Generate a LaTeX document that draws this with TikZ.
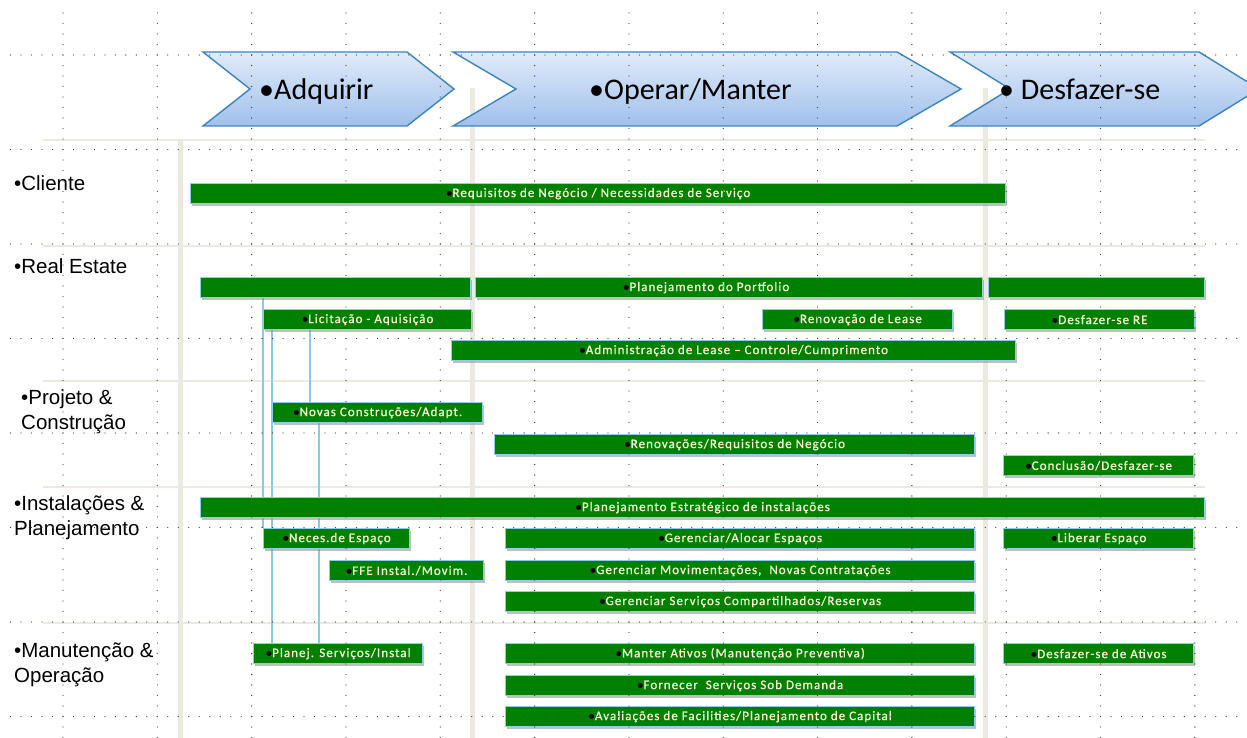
\documentclass[tikz,border=0pt]{standalone}
\usepackage{fontspec}
\setmainfont{Liberation Sans}
\newfontfamily\carlito{Carlito}
\newfontfamily\barfont[LetterSpace=8,FakeBold=0.7]{Carlito}
\usetikzlibrary{shadows}

\definecolor{bargreen}{RGB}{0,128,0}
\definecolor{barline}{RGB}{140,205,238}
\definecolor{bartext}{RGB}{250,250,218}
\definecolor{linkblue}{RGB}{140,200,235}
\definecolor{sepbeige}{RGB}{236,234,224}
\definecolor{chevline}{RGB}{62,132,188}
\definecolor{chevtop}{RGB}{224,235,250}
\definecolor{chevbot}{RGB}{160,192,235}
\definecolor{griddot}{RGB}{70,70,70}

\pgfdeclarelayer{back}
\pgfdeclarelayer{wires}
\pgfsetlayers{back,wires,main}

% black bullet in front of the bar labels
\newcommand{\bdot}{{\color{black}•}}

\tikzset{
  task/.style={draw=barline, line width=1.3pt, fill=bargreen, text=bartext,
    font=\barfont\fontsize{13}{15}\selectfont, minimum height=20pt,
    inner sep=0pt, anchor=north west,
    drop shadow={shadow xshift=1pt, shadow yshift=-2.5pt, fill=black!45, opacity=0.55}},
  phase/.style={draw=chevline, line width=1.4pt, top color=chevtop, bottom color=chevbot},
  phaselabel/.style={anchor=base west, inner sep=0pt, font=\carlito\fontsize{30}{36}\selectfont},
  lane/.style={anchor=west, inner sep=0pt, align=left, font=\fontsize{20.5}{25}\selectfont},
  sep/.style={draw=sepbeige, line width=2pt},
  pillar/.style={draw=sepbeige, line width=5pt},
  link/.style={draw=linkblue, line width=1.4pt},
  vdots/.style={draw=griddot, line width=1.3pt, line cap=round, dash pattern=on 0pt off 10.5pt},
  hdots/.style={draw=griddot, line width=1.3pt, line cap=round, dash pattern=on 0pt off 10.48pt}
}

\begin{document}
\begin{tikzpicture}[x=1pt,y=-1pt]
  \useasboundingbox (0,0) rectangle (1247,738);

  \begin{pgfonlayer}{back}
    \fill[white] (0,0) rectangle (1247,738);
    % lane separators
    \draw[sep] (43,140) -- (1205,140);
    \draw[sep] (43,246) -- (1205,246);
    \draw[sep] (43,381) -- (1205,381);
    \draw[sep] (43,487) -- (1205,487);
    \draw[sep] (43,623) -- (1205,623);
    \draw[pillar] (180,140) -- (180,738);
    \draw[pillar] (472,88) -- (472,738);
    \draw[pillar] (985,88) -- (985,738);
  \end{pgfonlayer}

  % phases
  \draw[phase] (203,52) -- (407,52) -- (454,89) -- (407,126) -- (203,126) -- (250,89) -- cycle;
  \draw[phase] (453,52) -- (897,52) -- (961,89) -- (897,126) -- (453,126) -- (516,89) -- cycle;
  \draw[phase] (950,52) -- (1199,52) -- (1259,89) -- (1199,126) -- (950,126) -- (1010,89) -- cycle;
  \node[phaselabel] (acq) at (259,100) {•Adquirir};
  \node[phaselabel] (opm) at (589,100) {•Operar/Manter};
  \node[phaselabel] (dsf) at (999,100) {• Desfazer-se};

  % lanes
  \node[lane] (cli) at (14,183) {•Cliente};
  \node[lane] (re) at (14,266) {•Real Estate};
  \node[lane] (pc) at (21,412) {•Projeto \&\\Construção};
  \node[lane] (ip) at (14,518) {•Instalações \&\\Planejamento};
  \node[lane] (mo) at (14,665) {•Manutenção \&\\Operação};

  % cliente
  \node[task, minimum width=815pt] (req) at (190,183) {\bdot Requisitos de Negócio / Necessidades de Serviço};

  % real estate
  \node[task, minimum width=270pt] (pfa) at (200,277) {};
  \node[task, minimum width=507pt] (pf) at (475,277) {\hspace*{-46pt}\bdot Planejamento do Portfolio};
  \node[task, minimum width=216pt] (pfc) at (988,277) {};
  \node[task, minimum width=208pt] (lic) at (263,309) {\bdot Licitação - Aquisição};
  \node[task, minimum width=190pt] (renl) at (762,309) {\bdot Renovação de Lease};
  \node[task, minimum width=190pt] (dre) at (1004,309) {\bdot Desfazer-se RE};
  \node[task, minimum width=564pt] (adm) at (451,340) {\bdot Administração de Lease – Controle/Cumprimento};

  % projeto e construcao
  \node[task, minimum width=210pt] (nov) at (272,402) {\bdot Novas Construções/Adapt.};
  \node[task, minimum width=480pt] (renv) at (494,434) {\bdot Renovações/Requisitos de Negócio};
  \node[task, minimum width=190pt] (conc) at (1003,455) {\bdot Conclusão/Desfazer-se};

  % instalacoes e planejamento
  \node[task, minimum width=1004pt] (pei) at (200,497) {\bdot Planejamento Estratégico de instalações};
  \node[task, minimum width=146pt] (nec) at (263,528) {\bdot Neces.de Espaço};
  \node[task, minimum width=469pt] (gae) at (505,528) {\bdot Gerenciar/Alocar Espaços};
  \node[task, minimum width=190pt] (lib) at (1003,528) {\bdot Liberar Espaço};
  \node[task, minimum width=154pt] (ffe) at (329,560) {\bdot FFE Instal./Movim.};
  \node[task, minimum width=469pt] (gmv) at (505,560) {\bdot Gerenciar Movimentações,\ \ Novas Contratações};
  \node[task, minimum width=469pt] (gsc) at (505,591) {\bdot Gerenciar Serviços Compartilhados/Reservas};

  % manutencao e operacao
  \node[task, minimum width=169pt] (psi) at (253,643) {\bdot Planej. Serviços/Instal};
  \node[task, minimum width=469pt] (mat) at (505,643) {\bdot Manter Ativos (Manutenção Preventiva)};
  \node[task, minimum width=190pt] (dat) at (1003,643) {\bdot Desfazer-se de Ativos};
  \node[task, minimum width=469pt] (fsd) at (505,675) {\bdot Fornecer\ \ Serviços Sob Demanda};
  \node[task, minimum width=469pt] (afp) at (505,706) {\bdot Avaliações de Facilities/Planejamento de Capital};

  % links between the early tasks
  \begin{pgfonlayer}{wires}
    \draw[link] (nec.north west |- pfa.south) -- (nec.north west);
    \draw[link] (nov.north west |- lic.south) -- (nov.north west |- psi.north);
    \draw[link] ([xshift=38pt]nov.north west |- lic.south) -- ([xshift=38pt]nov.north west);
    \draw[link] ([xshift=47pt]nov.south west) -- ([xshift=47pt]nov.south west |- psi.north);
  \end{pgfonlayer}

  % dotted guides
  \foreach \i in {0,...,12}
    \draw[vdots] ({63+94.32*\i},13) -- ({63+94.32*\i},738);
  \foreach \j in {0,...,7}
    \draw[hdots] (10.6,{55+94.5*\j}) -- (1247,{55+94.5*\j});
\end{tikzpicture}
\end{document}
